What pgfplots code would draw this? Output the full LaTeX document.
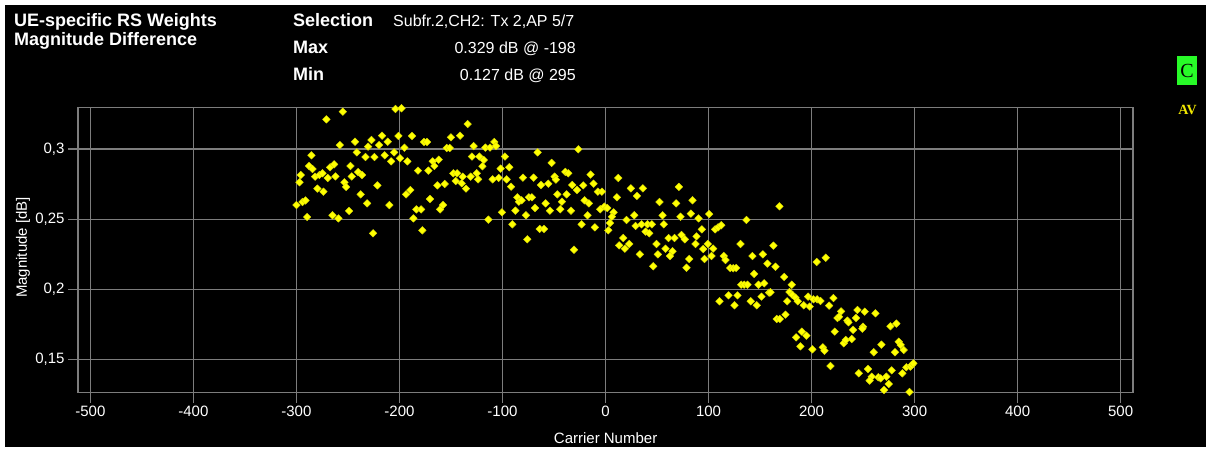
\documentclass[border=0pt]{standalone}
\usepackage{pgfplots}
\pgfplotsset{compat=1.18}
\usepackage{fontspec}
\setmainfont{Liberation Sans}
\newfontfamily\serifb{Liberation Serif}
\newfontfamily\monof{Liberation Mono}
\definecolor{gridgray}{RGB}{125,125,125}
\definecolor{ptyellow}{RGB}{255,255,0}
\definecolor{boxgreen}{RGB}{40,250,40}
\definecolor{avyellow}{RGB}{240,230,0}
\pgfplotstableread{
x y
-255.0 0.3266
-270.9 0.3211
-203.9 0.3285
-198.0 0.3290
-257.9 0.3028
-243.1 0.3052
-227.2 0.3064
-216.9 0.3095
-230.5 0.3017
-219.8 0.3028
-211.4 0.3052
-201.0 0.3093
-187.8 0.3093
-176.1 0.3050
-173.2 0.3050
-150.0 0.3083
-141.2 0.3095
-195.2 0.3009
-154.1 0.3007
-151.2 0.3007
-285.4 0.2955
-241.4 0.2976
-233.0 0.2943
-224.3 0.2943
-214.3 0.2955
-205.2 0.2976
-199.4 0.2934
-208.1 0.2912
-192.3 0.2912
-167.7 0.2912
-161.9 0.2924
-287.7 0.2879
-284.4 0.2858
-267.3 0.2870
-263.4 0.2891
-247.6 0.2879
-182.0 0.2846
-171.9 0.2846
-166.1 0.2879
-147.7 0.2827
-144.1 0.2827
-295.8 0.2815
-281.9 0.2803
-277.7 0.2815
-274.7 0.2827
-269.6 0.2794
-262.1 0.2805
-246.3 0.2805
-240.1 0.2836
-236.3 0.2815
-297.0 0.2763
-253.4 0.2763
-251.8 0.2730
-279.6 0.2718
-273.8 0.2696
-221.4 0.2741
-163.2 0.2741
-156.1 0.2751
-145.4 0.2772
-237.6 0.2677
-193.6 0.2677
-189.4 0.2708
-170.3 0.2644
-300.0 0.2601
-294.1 0.2623
-291.2 0.2634
-231.4 0.2613
-209.8 0.2601
-160.6 0.2570
-157.7 0.2601
-183.6 0.2570
-179.0 0.2570
-248.9 0.2559
-265.0 0.2528
-259.2 0.2506
-289.6 0.2516
-186.5 0.2506
-177.8 0.2421
-225.6 0.2400
-133.8 0.3178
-128.0 0.3021
-116.6 0.3010
-112.1 0.3010
-107.9 0.3050
-106.3 0.3021
-129.6 0.2946
-122.5 0.2946
-118.2 0.2922
-119.5 0.2877
-97.6 0.2946
-65.9 0.2976
-26.4 0.2998
-52.3 0.2901
-101.8 0.2860
-93.4 0.2870
-138.6 0.2803
-130.9 0.2803
-125.0 0.2827
-123.7 0.2784
-139.6 0.2756
-135.4 0.2718
-109.5 0.2784
-103.7 0.2794
-96.0 0.2784
-91.7 0.2732
-80.1 0.2796
-69.8 0.2796
-62.6 0.2744
-55.5 0.2753
-49.4 0.2803
-48.1 0.2782
-39.0 0.2837
-36.1 0.2827
-14.5 0.2818
12.4 0.2794
-32.3 0.2744
-27.7 0.2708
-21.6 0.2741
-11.6 0.2753
-7.4 0.2696
-3.5 0.2696
-46.8 0.2677
-37.7 0.2677
11.1 0.2656
-85.6 0.2656
-84.0 0.2625
-81.4 0.2635
-74.3 0.2656
-71.4 0.2656
-68.5 0.2580
-58.1 0.2613
-42.3 0.2625
-20.3 0.2635
-16.1 0.2613
-87.5 0.2561
-100.5 0.2549
-77.2 0.2528
-53.9 0.2561
-43.9 0.2571
-33.5 0.2561
-5.1 0.2571
-1.2 0.2590
1.7 0.2580
-17.4 0.2528
7.8 0.2549
6.2 0.2518
-113.7 0.2497
-90.4 0.2464
-63.9 0.2431
-59.7 0.2431
-23.2 0.2464
-10.3 0.2442
4.3 0.2473
2.7 0.2421
-75.9 0.2357
-30.6 0.2283
13.3 0.2314
24.6 0.2720
36.3 0.2720
30.5 0.2666
71.2 0.2730
52.4 0.2623
68.6 0.2613
84.5 0.2635
27.9 0.2528
20.4 0.2495
55.4 0.2528
72.8 0.2518
82.8 0.2540
90.3 0.2506
29.2 0.2452
35.0 0.2464
40.8 0.2464
45.0 0.2464
56.6 0.2464
38.9 0.2412
42.4 0.2400
17.2 0.2366
61.2 0.2366
67.0 0.2366
73.8 0.2388
77.0 0.2357
88.3 0.2378
18.8 0.2290
23.0 0.2324
49.5 0.2324
58.3 0.2290
65.1 0.2272
62.5 0.2238
87.4 0.2324
33.4 0.2250
50.8 0.2250
81.2 0.2217
46.3 0.2165
78.6 0.2155
100.6 0.2537
93.5 0.2428
106.4 0.2428
109.3 0.2442
112.3 0.2457
136.8 0.2495
168.8 0.2592
94.8 0.2288
99.3 0.2324
104.5 0.2291
96.1 0.2217
102.9 0.2238
131.0 0.2324
163.0 0.2312
114.8 0.2238
116.5 0.2210
142.6 0.2238
152.7 0.2250
157.2 0.2184
165.0 0.2162
121.0 0.2153
123.9 0.2151
126.8 0.2153
144.3 0.2111
173.4 0.2089
205.0 0.2196
213.8 0.2226
131.7 0.2034
134.6 0.2034
137.8 0.2034
148.5 0.2034
154.0 0.2044
180.8 0.2034
158.8 0.1977
160.1 0.1980
178.5 0.1982
181.4 0.1961
184.4 0.1942
186.6 0.1916
196.6 0.1949
201.8 0.1930
205.4 0.1930
208.6 0.1918
221.2 0.1939
110.6 0.1916
119.4 0.1958
128.1 0.1958
125.2 0.1887
141.0 0.1916
146.8 0.1887
151.4 0.1949
176.3 0.1916
192.4 0.1887
198.2 0.1878
217.0 0.1885
174.7 0.1821
166.2 0.1790
169.2 0.1790
228.6 0.1844
225.1 0.1797
226.7 0.1806
234.8 0.1778
235.8 0.1766
244.5 0.1854
251.6 0.1842
262.0 0.1830
243.2 0.1797
240.3 0.1712
250.0 0.1735
249.3 0.1721
222.5 0.1700
231.2 0.1617
233.2 0.1640
239.0 0.1647
282.3 0.1757
276.5 0.1738
284.6 0.1628
286.5 0.1605
289.4 0.1569
267.8 0.1607
260.3 0.1553
281.0 0.1553
185.0 0.1659
189.2 0.1595
195.0 0.1671
190.5 0.1700
200.8 0.1574
210.9 0.1588
212.5 0.1564
218.3 0.1455
245.8 0.1403
254.8 0.1434
258.4 0.1379
256.4 0.1351
264.8 0.1375
267.1 0.1367
272.6 0.1379
274.9 0.1327
270.3 0.1284
277.8 0.1424
288.1 0.1403
292.0 0.1446
295.9 0.1451
297.2 0.1462
298.8 0.1474
295.0 0.1270
}\datatable
\begin{document}
\begin{tikzpicture}
\useasboundingbox (0pt,0pt) rectangle (1206pt,452pt);
\fill[white] (0pt,0pt) rectangle (1206pt,452pt);
\fill[black] (5pt,5pt) rectangle (1206pt,447pt);
\begin{axis}[
  at={(78pt,59.3pt)}, anchor=south west,
  width=1055pt, height=285.4pt, scale only axis,
  xmin=-512, xmax=512, ymin=0.1265, ymax=0.3297,
  xtick={-500,-400,-300,-200,-100,0,100,200,300,400,500},
  xticklabels={-500,-400,-300,-200,-100,0,100,200,300,400,500},
  ytick={0.15,0.2,0.25,0.3},
  yticklabels={{0,15},{0,2},{0,25},{0,3}},
  grid=major,
  grid style={gridgray, line width=1.3pt},
  axis line style={gridgray, line width=1.3pt},
  tick align=outside, xtick pos=bottom, ytick pos=left,
  major tick length=10pt,
  tick style={gridgray, line width=1.3pt},
  tick label style={white, font=\fontsize{15}{18}\selectfont},
  minor tick num=0,
]
\addplot[only marks, mark=square*, mark size=2.7pt,
  mark options={rotate=45, fill=ptyellow, draw=ptyellow!85!black, line width=0.4pt}]
  table[x=x, y=y] {\datatable};
\end{axis}
\node[anchor=base west, white, inner sep=0pt, font=\bfseries\fontsize{18}{20}\selectfont] at (14pt,425pt) {UE-specific RS Weights};
\node[anchor=base west, white, inner sep=0pt, font=\bfseries\fontsize{18}{20}\selectfont] at (14pt,406pt) {Magnitude Difference};
\node[anchor=base west, white, inner sep=0pt, font=\bfseries\fontsize{18}{20}\selectfont] at (293pt,425pt) {Selection};
\node[anchor=base west, white, inner sep=0pt, font=\fontsize{16}{18}\selectfont] at (393pt,425pt) {Subfr.2,CH2: Tx 2,AP 5/7};
\node[anchor=base west, white, inner sep=0pt, font=\bfseries\fontsize{18}{20}\selectfont] at (293pt,398pt) {Max};
\node[anchor=base east, white, inner sep=0pt, font=\fontsize{16}{18}\selectfont] at (576pt,398pt) {0.329 dB @ -198};
\node[anchor=base west, white, inner sep=0pt, font=\bfseries\fontsize{18}{20}\selectfont] at (293pt,371pt) {Min};
\node[anchor=base east, white, inner sep=0pt, font=\fontsize{16}{18}\selectfont] at (576pt,371pt) {0.127 dB @ 295};
\fill[boxgreen] (1177pt,367pt) rectangle (1197pt,396pt);
\node[black, inner sep=0pt, font=\serifb\fontsize{20}{22}\selectfont] at (1187pt,381.5pt) {C};
\node[anchor=base, avyellow, inner sep=0pt, font=\serifb\bfseries\fontsize{14}{16}\selectfont] at (1187.5pt,337pt) {AV};
\node[anchor=base, white, inner sep=0pt, font=\fontsize{15}{18}\selectfont] at (605.6pt,9pt) {Carrier Number};
\node[anchor=base, white, inner sep=0pt, rotate=90, font=\fontsize{15}{18}\selectfont] at (27pt,204.5pt) {Magnitude [dB]};
\end{tikzpicture}
\end{document}
